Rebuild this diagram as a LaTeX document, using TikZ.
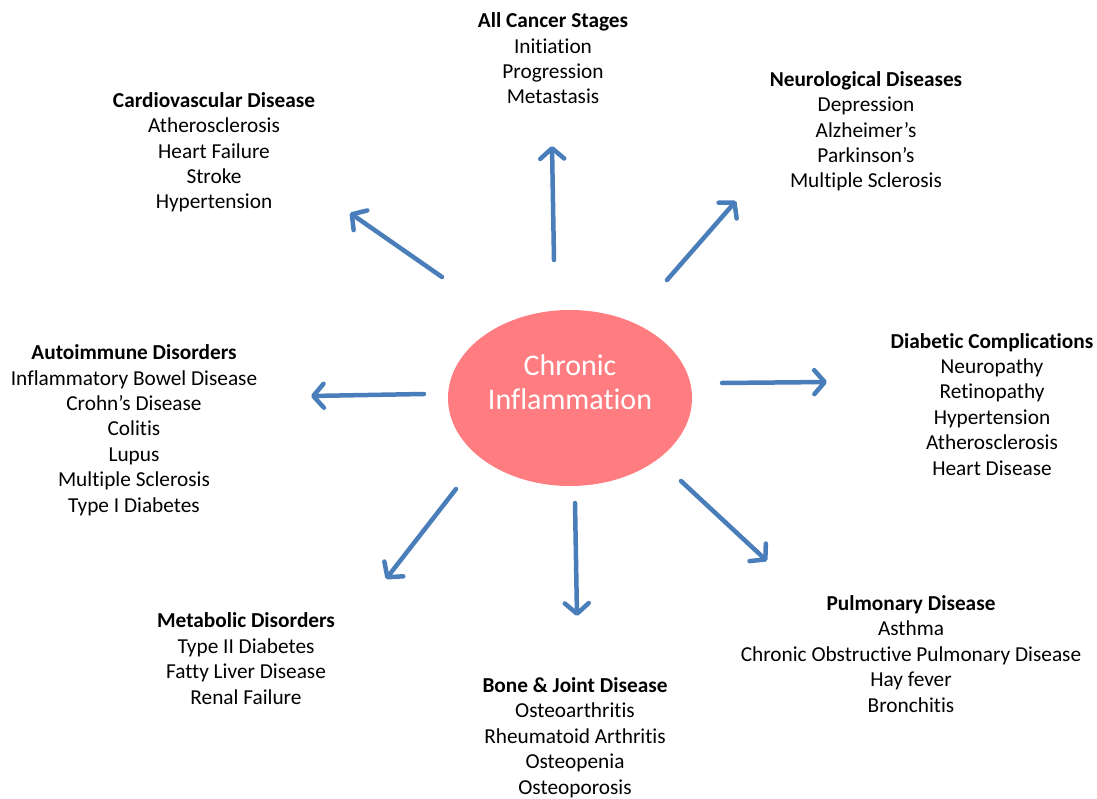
\documentclass[tikz,border=0pt]{standalone}
\usepackage{fontspec}
\setmainfont{Carlito}[Ligatures=NoCommon]
\usetikzlibrary{arrows.meta,shapes.geometric}
\definecolor{spokeblue}{HTML}{4A7EBB}
\definecolor{inflamred}{HTML}{FF7C80}
\tikzset{
  group/.style={align=center, inner sep=0pt, anchor=base, font=\fontsize{21.3}{25.4}\selectfont},
  spoke/.style={spokeblue, line width=4.5pt, line cap=round, line join=round,
    -{Straight Barb[length=10.5pt, width=24pt, round]}},
}
\begin{document}
\begin{tikzpicture}[x=1pt, y=-1pt]
\useasboundingbox (0,0) rectangle (1097,799);
% centre
\node[ellipse, fill=inflamred, minimum width=244pt, minimum height=176pt, inner sep=0pt] (chronic) at (570,398) {};
\node[anchor=base, align=center, text=white, font=\fontsize{30}{34}\selectfont, inner sep=0pt] (chroniclabel) at (570,409) {Chronic\\Inflammation};
% disease groups (placed at the baseline of their last line)
\node[group] (cancer) at (553,104) {\textbf{All Cancer Stages}\\Initiation\\Progression\\Metastasis};
\node[group] (cardio) at (214,209) {\textbf{Cardiovascular Disease}\\Atherosclerosis\\Heart Failure\\Stroke\\Hypertension};
\node[group] (neuro) at (866,188) {\textbf{Neurological Diseases}\\Depression\\Alzheimer’s\\Parkinson’s\\Multiple Sclerosis};
\node[group] (autoimmune) at (134,512) {\textbf{Autoimmune Disorders}\\Inflammatory Bowel Disease\\Crohn’s Disease\\Colitis\\Lupus\\Multiple Sclerosis\\Type I Diabetes};
\node[group] (diabetic) at (992,475) {\textbf{Diabetic Complications}\\Neuropathy\\Retinopathy\\Hypertension\\Atherosclerosis\\Heart Disease};
\node[group] (metabolic) at (246,704) {\textbf{Metabolic Disorders}\\Type II Diabetes\\Fatty Liver Disease\\Renal Failure};
\node[group] (bone) at (575,794) {\textbf{Bone \& Joint Disease}\\Osteoarthritis\\Rheumatoid Arthritis\\Osteopenia\\Osteoporosis};
\node[group] (pulmonary) at (911,712) {\textbf{Pulmonary Disease}\\Asthma\\Chronic Obstructive Pulmonary Disease\\Hay fever\\Bronchitis};
% arrow ends
\coordinate (cancertail) at (554,260);  \coordinate (cancertip) at (552,146);
\coordinate (cardiotail) at (442,277);  \coordinate (cardiotip) at (350,213);
\coordinate (neurotail) at (667,280);   \coordinate (neurotip) at (736,201);
\coordinate (diabetictail) at (722,383); \coordinate (diabetictip) at (827,382);
\coordinate (autotail) at (424,394);    \coordinate (autotip) at (311,396);
\coordinate (metabtail) at (456,489);   \coordinate (metabtip) at (386,579);
\coordinate (bonetail) at (575,503);    \coordinate (bonetip) at (577,616);
\coordinate (pulmtail) at (681,481);    \coordinate (pulmtip) at (767,561);
\draw[spoke] (cancertail) -- (cancertip);
\draw[spoke] (cardiotail) -- (cardiotip);
\draw[spoke] (neurotail) -- (neurotip);
\draw[spoke] (diabetictail) -- (diabetictip);
\draw[spoke] (autotail) -- (autotip);
\draw[spoke] (metabtail) -- (metabtip);
\draw[spoke] (bonetail) -- (bonetip);
\draw[spoke] (pulmtail) -- (pulmtip);
\end{tikzpicture}
\end{document}
